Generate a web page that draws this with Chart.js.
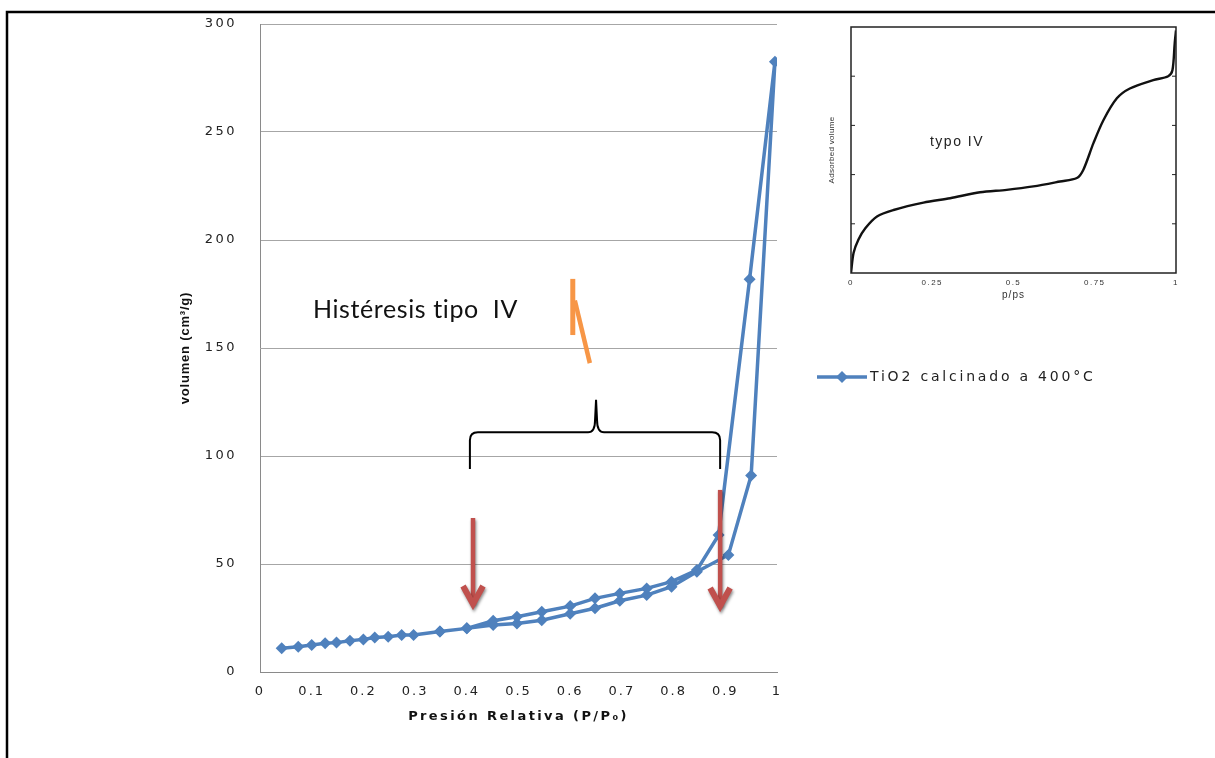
<!DOCTYPE html>
<html>
<head>
<meta charset="utf-8">
<script src="https://cdn.jsdelivr.net/npm/chart.js@4.4.1/dist/chart.umd.min.js"></script>
<style>
  body { margin: 0; background: #fff; }
  #wrap { position: relative; width: 1215px; height: 758px; }
  #mainChart { position: absolute; left: 0; top: 0; }
  #insetChart { position: absolute; left: 800px; top: 10px; }
</style>
</head>
<body>
<div id="wrap">
  <canvas id="mainChart" width="1215" height="758"></canvas>
  <canvas id="insetChart" width="400" height="310"></canvas>
</div>
<script>
// isoterma TiO2: adsorcion (ida) y desorcion (vuelta) en una sola serie, como en Excel
const presion = [0.042, 0.074, 0.1, 0.126, 0.148, 0.174, 0.2, 0.222, 0.248, 0.274, 0.297, 0.348, 0.4,
  0.451, 0.497, 0.545, 0.6, 0.648, 0.696, 0.748, 0.796, 0.845, 0.906, 0.95, 0.996,
  0.947, 0.887, 0.845, 0.796, 0.748, 0.696, 0.648, 0.6, 0.545, 0.497, 0.451, 0.4, 0.348];
const volumen = [11, 11.7, 12.5, 13.3, 13.6, 14.5, 15.1, 16, 16.3, 17.1, 17.1, 18.7, 20.2,
  21.8, 22.5, 24, 27, 29.5, 33, 35.6, 39.5, 46.4, 54.2, 91, 282.5,
  181.8, 63.4, 47.2, 41.8, 38.7, 36.4, 34.1, 30.5, 27.9, 25.6, 23.7, 20.2, 18.7];
const serieNombre = 'TiO2 calcinado a 400°C';

// curva de referencia tipo IV (recuadro)
const refP = [0, 0.008, 0.023, 0.044, 0.08, 0.131, 0.223, 0.305, 0.397, 0.479, 0.561, 0.643, 0.695,
  0.715, 0.746, 0.777, 0.818, 0.858, 0.93, 0.976, 0.989, 0.996, 1.0];
const refV = [0, 0.41, 0.68, 0.91, 1.15, 1.28, 1.43, 1.52, 1.64, 1.69, 1.76, 1.86, 1.93,
  2.1, 2.64, 3.11, 3.55, 3.75, 3.92, 4.0, 4.12, 4.67, 4.93];

const puntos = presion.map((p, i) => ({ x: p, y: volumen[i] }));
const refPuntos = refP.map((p, i) => ({ x: p, y: refV[i] }));

// letter spacing per scale (the Excel text is stretched wide)
function spaced(scale, tickSp, titleSp) {
  if (scale._spaced) return;
  scale._spaced = true;
  const ctx = scale.ctx;
  const dl = scale.drawLabels.bind(scale);
  const dt = scale.drawTitle.bind(scale);
  scale.drawLabels = a => { ctx.letterSpacing = tickSp; dl(a); ctx.letterSpacing = '0px'; };
  scale.drawTitle = a => { ctx.letterSpacing = titleSp; dt(a); ctx.letterSpacing = '0px'; };
}

const azul = '#4F81BD';

const extras = {
  id: 'extras',
  afterUpdate(c) {
    spaced(c.scales.x, '2px', '2.4px');
    spaced(c.scales.y, '2.5px', '0.8px');
  },
  afterDraw(c) {
    const ctx = c.ctx;
    const xs = c.scales.x, ys = c.scales.y;
    const px = v => xs.getPixelForValue(v);
    const py = v => ys.getPixelForValue(v);
    ctx.save();
    ctx.letterSpacing = '0px';

    // marco negro
    ctx.strokeStyle = '#000';
    ctx.lineWidth = 2.5;
    ctx.beginPath();
    ctx.moveTo(7, 758);
    ctx.lineTo(7, 12);
    ctx.lineTo(1215, 12);
    ctx.stroke();

    // texto
    ctx.fillStyle = '#111';
    ctx.font = '25px Lato';
    ctx.letterSpacing = '0.6px';
    ctx.textBaseline = 'alphabetic';
    ctx.fillText('Histéresis tipo  IV', px(0.1025), py(163.8));
    ctx.letterSpacing = '0px';

    // trazos naranjas
    ctx.strokeStyle = '#F79646';
    ctx.lineWidth = 5;
    ctx.beginPath();
    ctx.moveTo(px(0.605), py(182));
    ctx.lineTo(px(0.605), py(156));
    ctx.stroke();
    ctx.lineWidth = 4.5;
    ctx.beginPath();
    ctx.moveTo(px(0.609), py(172));
    ctx.lineTo(px(0.638), py(143));
    ctx.stroke();

    // llave
    const x1 = px(0.406), x2 = px(0.89), xm = px(0.65);
    const yT = py(111), yE = py(94), yP = py(126);
    ctx.strokeStyle = '#000';
    ctx.lineWidth = 2;
    ctx.beginPath();
    ctx.moveTo(x1, yE);
    ctx.lineTo(x1, yT + 8);
    ctx.quadraticCurveTo(x1, yT, x1 + 8, yT);
    ctx.lineTo(xm - 8, yT);
    ctx.quadraticCurveTo(xm - 1, yT, xm - 1, yT - 12);
    ctx.lineTo(xm, yP);
    ctx.lineTo(xm + 1, yT - 12);
    ctx.quadraticCurveTo(xm + 1, yT, xm + 8, yT);
    ctx.lineTo(x2 - 8, yT);
    ctx.quadraticCurveTo(x2, yT, x2, yT + 8);
    ctx.lineTo(x2, yE);
    ctx.stroke();

    // flechas rojas
    function flecha(x, vTop, vTip) {
      const xp = px(x), y1 = py(vTop), y2 = py(vTip);
      ctx.save();
      ctx.shadowColor = 'rgba(0,0,0,0.45)';
      ctx.shadowBlur = 3;
      ctx.shadowOffsetX = 1;
      ctx.shadowOffsetY = 2;
      ctx.strokeStyle = '#C0504D';
      ctx.lineWidth = 4.5;
      ctx.beginPath();
      ctx.moveTo(xp, y1);
      ctx.lineTo(xp, y2 - 4);
      ctx.stroke();
      ctx.lineWidth = 6;
      ctx.lineJoin = 'miter';
      ctx.beginPath();
      ctx.moveTo(xp - 10, y2 - 22);
      ctx.lineTo(xp, y2 - 4);
      ctx.lineTo(xp + 10, y2 - 22);
      ctx.stroke();
      ctx.restore();
    }
    flecha(0.412, 71.3, 29.6);
    flecha(0.89, 84.3, 28.7);

    // leyenda
    const ly = 377;
    ctx.strokeStyle = azul;
    ctx.lineWidth = 3.5;
    ctx.beginPath();
    ctx.moveTo(817, ly);
    ctx.lineTo(867, ly);
    ctx.stroke();
    ctx.fillStyle = azul;
    ctx.beginPath();
    ctx.moveTo(842, ly - 6);
    ctx.lineTo(848, ly);
    ctx.lineTo(842, ly + 6);
    ctx.lineTo(836, ly);
    ctx.closePath();
    ctx.fill();
    ctx.fillStyle = '#222';
    ctx.font = '14px "DejaVu Sans"';
    ctx.textBaseline = 'middle';
    ctx.letterSpacing = '2.8px';
    ctx.fillText(serieNombre, 870, ly);
    ctx.restore();
  }
};

new Chart(document.getElementById('mainChart'), {
  type: 'scatter',
  data: {
    datasets: [{
      label: serieNombre,
      data: puntos,
      showLine: true,
      borderColor: azul,
      backgroundColor: azul,
      borderWidth: 3.5,
      pointStyle: 'rectRot',
      pointRadius: 6,
      pointBackgroundColor: azul,
      pointBorderColor: azul,
      pointBorderWidth: 0
    }]
  },
  options: {
    responsive: false,
    animation: false,
    devicePixelRatio: 1,
    layout: { padding: { left: 170, top: 24, right: 438, bottom: 26 } },
    plugins: { legend: { display: false }, tooltip: { enabled: false } },
    scales: {
      x: {
        type: 'linear', min: 0, max: 1,
        ticks: {
          stepSize: 0.1, padding: 12, autoSkip: false, maxRotation: 0,
          color: '#222', font: { family: 'DejaVu Sans', size: 13 },
          callback: v => String(Math.round(v * 10) / 10)
        },
        grid: { display: false, drawTicks: false },
        border: { display: true, color: '#8a8a8a', width: 1 },
        title: {
          display: true, text: 'Presión Relativa (P/P₀)', color: '#111',
          font: { family: 'DejaVu Sans', size: 13, weight: 'bold' },
          padding: { top: 0, bottom: 8 }
        },
        afterFit: s => { s.height = 60; }
      },
      y: {
        min: 0, max: 300,
        ticks: {
          stepSize: 50, padding: 23, color: '#222',
          font: { family: 'DejaVu Sans', size: 13 }
        },
        grid: { color: '#a6a6a6', lineWidth: 1, drawTicks: false },
        border: { display: true, color: '#8a8a8a', width: 1 },
        title: {
          display: true, text: 'volumen (cm³/g)', color: '#111',
          font: { family: 'Liberation Sans', size: 13, weight: 'bold' },
          padding: { top: 8, bottom: 0 }
        },
        afterFit: s => { s.width = 90; s.paddingTop = 0; s.paddingBottom = 0; }
      }
    }
  },
  plugins: [extras]
});

// recuadro: isoterma tipo IV de referencia
const recuadro = {
  id: 'recuadro',
  afterUpdate(c) {
    spaced(c.scales.x, '1.5px', '1px');
    spaced(c.scales.y, '0px', '0.3px');
  },
  afterDraw(c) {
    const ctx = c.ctx;
    const a = c.chartArea;
    const ys = c.scales.y, xs = c.scales.x;
    ctx.save();
    ctx.strokeStyle = '#222';
    ctx.lineWidth = 1.5;
    ctx.strokeRect(a.left, a.top, a.right - a.left, a.bottom - a.top);
    ctx.lineWidth = 1;
    [1, 2, 3, 4].forEach(v => {
      const y = ys.getPixelForValue(v);
      ctx.beginPath();
      ctx.moveTo(a.left, y);
      ctx.lineTo(a.left + 4, y);
      ctx.moveTo(a.right, y);
      ctx.lineTo(a.right - 4, y);
      ctx.stroke();
    });
    ctx.fillStyle = '#222';
    ctx.font = '14px "Liberation Sans"';
    ctx.letterSpacing = '1.5px';
    ctx.textBaseline = 'middle';
    ctx.fillText('typo IV', xs.getPixelForValue(0.243), ys.getPixelForValue(2.65));
    ctx.restore();
  }
};

new Chart(document.getElementById('insetChart'), {
  type: 'scatter',
  data: {
    datasets: [{
      data: refPuntos,
      showLine: true,
      borderColor: '#111',
      borderWidth: 2.4,
      pointRadius: 0,
      tension: 0.3
    }]
  },
  options: {
    responsive: false,
    animation: false,
    devicePixelRatio: 1,
    layout: { padding: { left: 0, top: 17, right: 24, bottom: 7 } },
    plugins: { legend: { display: false }, tooltip: { enabled: false } },
    scales: {
      x: {
        type: 'linear', min: 0, max: 1,
        ticks: {
          stepSize: 0.25, padding: 5, color: '#333', autoSkip: false, maxRotation: 0,
          font: { family: 'Liberation Sans', size: 8 },
          callback: v => String(v)
        },
        grid: { display: false, drawTicks: false },
        border: { display: false },
        title: {
          display: true, text: 'p/ps', color: '#333',
          font: { family: 'Liberation Sans', size: 10 },
          padding: { top: 0, bottom: 12 }
        },
        afterFit: s => { s.height = 40; }
      },
      y: {
        min: 0, max: 5,
        ticks: { display: false },
        grid: { display: false, drawTicks: false },
        border: { display: false },
        title: {
          display: true, text: 'Adsorbed volume', color: '#333',
          font: { family: 'Liberation Sans', size: 8 },
          padding: { top: 27, bottom: 0 }
        },
        afterFit: s => { s.width = 51; }
      }
    }
  },
  plugins: [recuadro]
});
</script>
</body>
</html>
